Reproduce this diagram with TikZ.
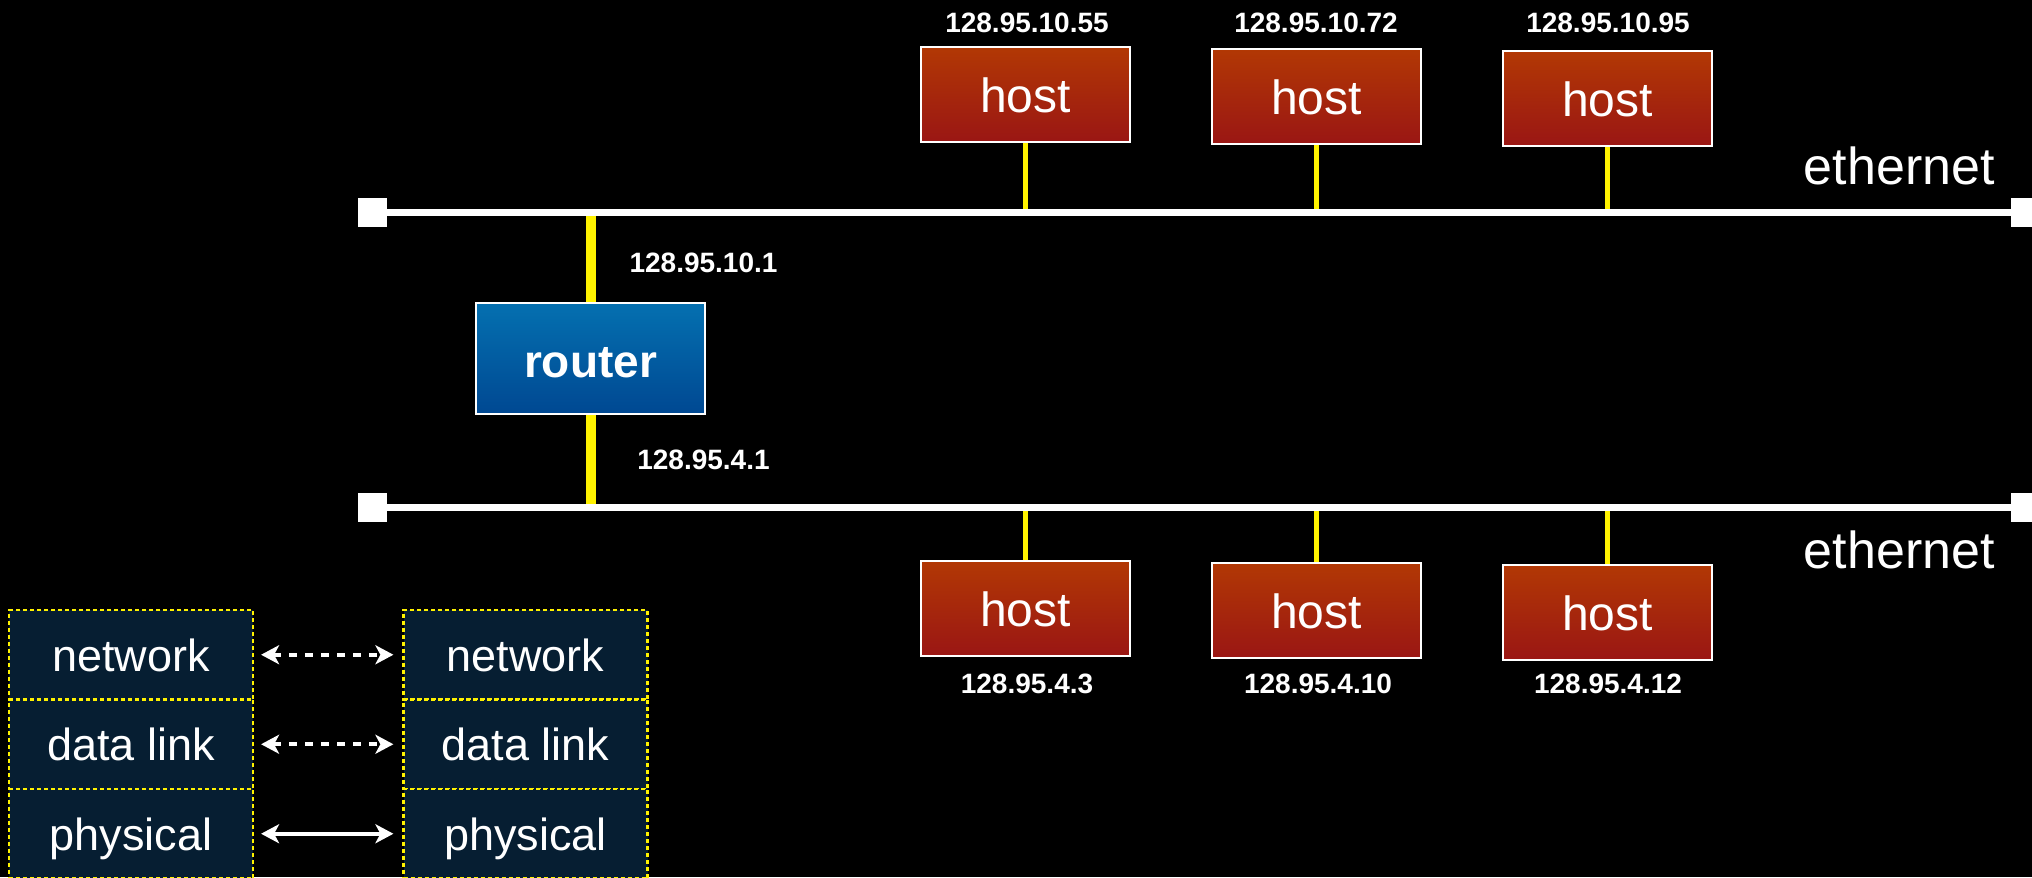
\documentclass[tikz,border=0pt]{standalone}
\usepackage{fontspec}
\setmainfont{Liberation Sans}
\definecolor{HostTop}{RGB}{178,56,4}
\definecolor{HostBottom}{RGB}{154,22,20}
\definecolor{RouterTop}{RGB}{4,112,176}
\definecolor{RouterBottom}{RGB}{0,72,146}
\definecolor{LayerFill}{RGB}{6,30,50}
\colorlet{LinkYellow}{yellow}
\newcommand{\hostfont}{\fontsize{24}{28}\selectfont}
\newcommand{\netfont}{\fontsize{26}{30}\selectfont}
\newcommand{\ipfont}{\fontsize{14}{16}\selectfont\bfseries}
\newcommand{\routerfont}{\fontsize{23}{26}\selectfont\bfseries}
\newcommand{\layerfont}{\fontsize{22.5}{26}\selectfont}
\usetikzlibrary{arrows.meta}

\tikzset{
    hostbox/.style={draw=white, line width=1pt, top color=HostTop, bottom color=HostBottom,
        minimum width=104.5pt, minimum height=47.5pt, text=white, font=\hostfont,
        text height=18pt, text depth=0pt},
    routerbox/.style={draw=white, line width=1pt, top color=RouterTop, bottom color=RouterBottom,
        minimum width=114.5pt, minimum height=55.5pt, text=white, font=\routerfont,
        text height=18.5pt, text depth=0pt},
    iplabel/.style={text=white, font=\ipfont, inner sep=0pt},
    netlabel/.style={text=white, font=\netfont, inner sep=0pt, anchor=base east},
    endcap/.style={fill=white, minimum size=14.5pt, inner sep=0pt},
    ethernetline/.style={draw=white, line width=3.5pt},
    stub/.style={draw=LinkYellow, line width=2.25pt},
    uplink/.style={draw=LinkYellow, line width=5pt},
    layerbox/.style={draw=LinkYellow, dash pattern=on 2pt off 1.5pt, line width=1.1pt,
        fill=LayerFill, minimum width=122pt, minimum height=44.75pt, text=white,
        font=\layerfont, text height=16.5pt, text depth=0pt},
    peer/.style={draw=white, line width=2pt, {Stealth[length=9pt, width=9.5pt, inset=2.5pt]}-{Stealth[length=9pt, width=9.5pt, inset=2.5pt]},
        shorten <=3.5pt, shorten >=4.5pt}
}

\begin{document}
\begin{tikzpicture}[x=0.5pt, y=-0.5pt]

    \useasboundingbox (0,0) rectangle (2032,877);
    \fill[black] (0,0) rectangle (2032,877);

    % Extremos de las dos redes ethernet
    \node[endcap] (C1) at (372.5,212.5) {};
    \node[endcap] (C2) at (2025.5,212.5) {};
    \node[endcap] (C3) at (372.5,507.5) {};
    \node[endcap] (C4) at (2025.5,507.5) {};

    % Hosts y router
    \node[hostbox] (H1) at (1025.5,94.5) {host};
    \node[hostbox] (H2) at (1316.5,96.5) {host};
    \node[hostbox] (H3) at (1607.5,99) {host};
    \node[hostbox] (H4) at (1025.5,608.5) {host};
    \node[hostbox] (H5) at (1316.5,610.5) {host};
    \node[hostbox] (H6) at (1607.5,612.5) {host};
    \node[routerbox] (R) at (590.5,358.5) {router};

    % Conexiones amarillas
    \draw[uplink] (R.north) -- (R.north |- C1);
    \draw[uplink] (R.south) -- (R.south |- C3);
    \foreach \h in {H1,H2,H3} \draw[stub] (\h.south) -- (\h.south |- C1);
    \foreach \h in {H4,H5,H6} \draw[stub] (\h.north) -- (\h.north |- C3);

    \draw[ethernetline] (C1) -- (C2);
    \draw[ethernetline] (C3) -- (C4);

    \node[netlabel] (E1) at (1995,185) {ethernet};
    \node[netlabel] (E2) at (1995,568) {ethernet};

    % Direcciones IP
    \node[iplabel] (T1) at (1027,23) {128.95.10.55};
    \node[iplabel] (T2) at (1316,23) {128.95.10.72};
    \node[iplabel] (T3) at (1608,23) {128.95.10.95};
    \node[iplabel] (RT) at (703.5,263) {128.95.10.1};
    \node[iplabel] (RB) at (703.5,460) {128.95.4.1};
    \node[iplabel] (B1) at (1027,684) {128.95.4.3};
    \node[iplabel] (B2) at (1318,684) {128.95.4.10};
    \node[iplabel] (B3) at (1608,684) {128.95.4.12};

    % Pilas de capas
    \node[layerbox] (N1) at (131,654.75) {network};
    \node[layerbox] (D1) at (131,744.25) {data link};
    \node[layerbox] (P1) at (131,833.75) {physical};
    \node[layerbox] (N2) at (525.5,654.75) {network};
    \node[layerbox] (D2) at (525.5,744.25) {data link};
    \node[layerbox] (P2) at (525.5,833.75) {physical};

    \draw[peer, dash pattern=on 4pt off 4pt] (N1) -- (N2);
    \draw[peer, dash pattern=on 4pt off 4pt] (D1) -- (D2);
    \draw[peer] (P1) -- (P2);

\end{tikzpicture}
\end{document}
